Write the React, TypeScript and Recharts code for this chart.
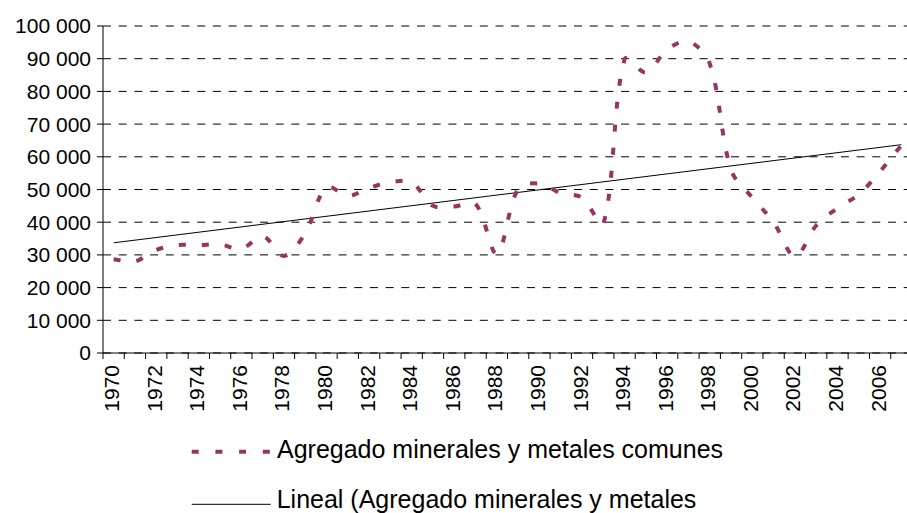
import { LineChart, Line, XAxis, YAxis, CartesianGrid, ReferenceLine } from "recharts";

const years = [
  1970, 1971, 1972, 1973, 1974, 1975, 1976, 1977, 1978, 1979,
  1980, 1981, 1982, 1983, 1984, 1985, 1986, 1987, 1988, 1989,
  1990, 1991, 1992, 1993, 1994, 1995, 1996, 1997, 1998, 1999,
  2000, 2001, 2002, 2003, 2004, 2005, 2006, 2007,
];
const agregado = [
  28700, 28000, 31500, 33000, 33000, 33200, 31800, 35800, 29700, 36700,
  50800, 48000, 50500, 52200, 52200, 45000, 44800, 45600, 30300, 50200,
  51800, 48900, 47500, 39500, 89800, 85800, 92800, 95300, 88500, 56000,
  47500, 40000, 29500, 39000, 44300, 48500, 55500, 63500,
];
// linear trend end points
const trendYears = [1970, 2007];
const trendValues = [33700, 63700];
const yTicks = [0, 10000, 20000, 30000, 40000, 50000, 60000, 70000, 80000, 90000, 100000];
const labelYears = years.filter((y) => y % 2 === 0 && y < 2007);
const seriesName = "Agregado minerales y metales comunes";
const trendName = "Lineal (Agregado minerales y metales comunes)";

const data = years.map((year, i) => ({ year, value: agregado[i] }));
const boundaryTicks = [...years.map((y) => y - 0.5), years[years.length - 1] + 0.5];
const xTicks = [...boundaryTicks, ...labelYears].sort((a, b) => a - b);

const FONT = "'Liberation Sans', Arial, sans-serif";
const PLUM = "#993366";

// Excel-like smoothed line: bezier with chord-weighted tangents
function excelSmooth(context: any) {
  let pts: number[][] = [];
  const dist = (a: number[], b: number[]) => Math.hypot(b[0] - a[0], b[1] - a[1]);
  return {
    areaStart() {},
    areaEnd() {},
    lineStart() { pts = []; },
    point(x: number, y: number) { pts.push([+x, +y]); },
    lineEnd() {
      if (!pts.length) return;
      context.moveTo(pts[0][0], pts[0][1]);
      for (let i = 0; i < pts.length - 1; i++) {
        const p0 = pts[i - 1] || pts[i];
        const p1 = pts[i];
        const p2 = pts[i + 1];
        const p3 = pts[i + 2] || p2;
        const d01 = dist(p0, p1), d12 = dist(p1, p2), d23 = dist(p2, p3);
        const f1 = d01 + d12 > 0 ? d12 / (3 * (d01 + d12)) : 0;
        const f2 = d12 + d23 > 0 ? d12 / (3 * (d12 + d23)) : 0;
        context.bezierCurveTo(
          p1[0] + (p2[0] - p0[0]) * f1, p1[1] + (p2[1] - p0[1]) * f1,
          p2[0] - (p3[0] - p1[0]) * f2, p2[1] - (p3[1] - p1[1]) * f2,
          p2[0], p2[1],
        );
      }
    },
  };
}

const fmt = (v: number) => String(v).replace(/\B(?=(\d{3})+(?!\d))/g, " ");

function YearTick({ x, y, payload }: any) {
  const v = payload.value;
  if (!Number.isInteger(v)) {
    return <line x1={x} y1={y} x2={x} y2={y + 6} stroke="#000" strokeWidth={1} />;
  }
  const ty = y + 12;
  return (
    <text
      x={x - 2}
      y={ty}
      transform={`rotate(-90 ${x - 2} ${ty})`}
      textAnchor="end"
      dominantBaseline="central"
      fontSize={21}
      fontFamily={FONT}
      fill="#000"
    >
      {v}
    </text>
  );
}

export default function App() {
  return (
    <div style={{ position: "absolute", left: 0, top: 0, width: 907, height: 513, overflow: "hidden", background: "#fff" }}>
      <LineChart width={920} height={513} data={data} margin={{ top: 26, right: 8, left: 8, bottom: 100 }}>
        <CartesianGrid vertical={false} stroke="#000" strokeDasharray="8 7.7" />
        <XAxis
          dataKey="year"
          type="number"
          domain={[boundaryTicks[0], boundaryTicks[boundaryTicks.length - 1]]}
          ticks={xTicks}
          interval={0}
          tickSize={0}
          tickMargin={0}
          tickLine={false}
          tick={<YearTick />}
          axisLine={{ stroke: "#000" }}
          height={60}
        />
        <YAxis
          type="number"
          domain={[0, 100000]}
          ticks={yTicks}
          interval={0}
          width={95}
          tickSize={6}
          tickMargin={6}
          tickFormatter={fmt}
          tick={{ fill: "#000", fontSize: 21, fontFamily: FONT }}
          axisLine={{ stroke: "#000" }}
          tickLine={{ stroke: "#000" }}
        />
        <ReferenceLine
          segment={[
            { x: trendYears[0], y: trendValues[0] },
            { x: trendYears[1], y: trendValues[1] },
          ]}
          stroke="#000"
          strokeWidth={1}
          ifOverflow="visible"
        />
        <Line
          dataKey="value"
          name={seriesName}
          type={excelSmooth as any}
          stroke={PLUM}
          strokeWidth={4}
          strokeDasharray="7 16"
          dot={false}
          activeDot={false}
          isAnimationActive={false}
        />
      </LineChart>
      <svg width={907} height={513} style={{ position: "absolute", left: 0, top: 0, pointerEvents: "none" }}>
        <line x1={191.7} y1={451.7} x2={270.7} y2={451.7} stroke={PLUM} strokeWidth={4} strokeDasharray="7 16.7" />
        <text x={277} y={458.3} fontSize={25} fontFamily={FONT} fill="#000">{seriesName}</text>
        <line x1={191.7} y1={504.3} x2={270.7} y2={504.3} stroke="#000" strokeWidth={1} />
        <text x={276.7} y={508.3} fontSize={25} fontFamily={FONT} fill="#000">
          <tspan x={276.7}>{trendName.split(" ").slice(0, 5).join(" ")}</tspan>
          <tspan x={276.7} dy={50}>{trendName.split(" ").slice(5).join(" ")}</tspan>
        </text>
      </svg>
    </div>
  );
}
